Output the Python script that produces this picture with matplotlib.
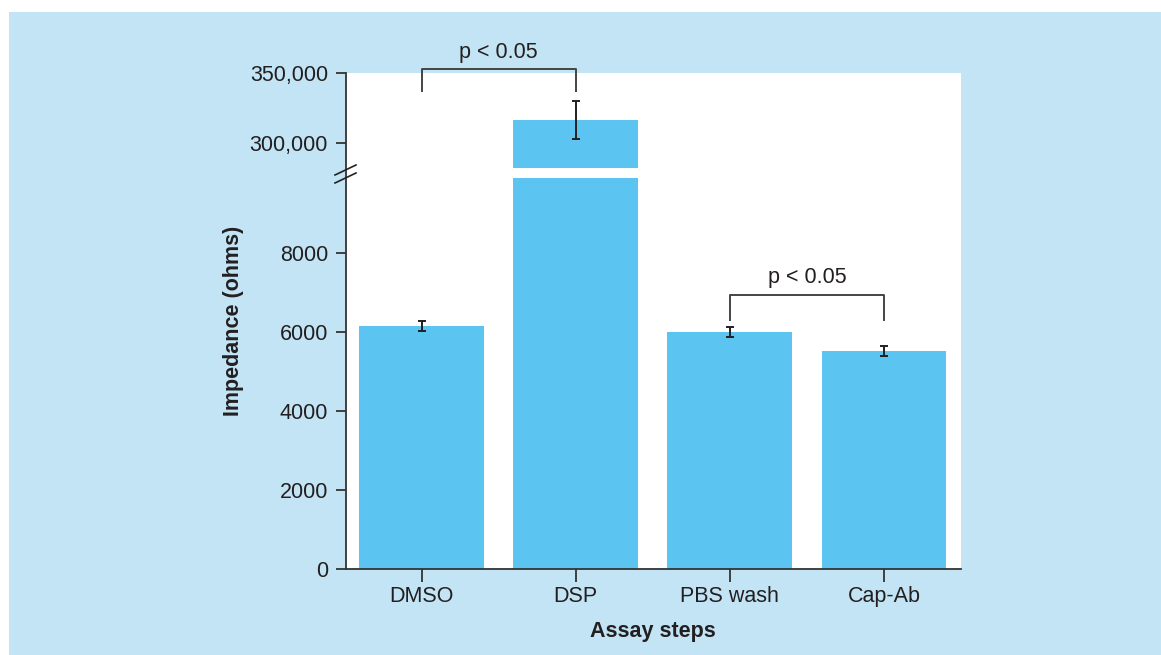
import matplotlib.pyplot as plt
from matplotlib.patches import Rectangle
from matplotlib.lines import Line2D
from matplotlib.ticker import FuncFormatter

plt.rcParams['font.family'] = ['Liberation Sans', 'DejaVu Sans']

steps = ['DMSO', 'DSP', 'PBS wash', 'Cap-Ab']
impedance = [6150, 316500, 6000, 5520]
err = [130, 13500, 125, 135]

panel_col = '#c2e4f5'
bar_col = '#5bc4f1'
ink = '#231f20'

W, H = 1161, 655
fig = plt.figure(figsize=(W / 100, H / 100), dpi=100)
fig.patch.set_facecolor('white')


def fx(px):
    return px / W


def fy(py):
    return 1 - py / H


# light blue panel and the white plotting area behind both axes
fig.patches.append(Rectangle((fx(9), 0), 1 - fx(9), fy(12), transform=fig.transFigure,
                             facecolor=panel_col, edgecolor='none', zorder=-2))
fig.patches.append(Rectangle((fx(346), fy(569)), fx(615), 496 / H, transform=fig.transFigure,
                             facecolor='white', edgecolor='none', zorder=-1))

ax_top = fig.add_axes([fx(346), fy(168), fx(615), 95 / H])
ax_bot = fig.add_axes([fx(346), fy(569), fx(615), 391 / H])

x = list(range(len(steps)))
for ax in (ax_top, ax_bot):
    ax.set_facecolor('none')
    ax.bar(x, impedance, width=0.81, color=bar_col, zorder=2)
    ax.errorbar(x, impedance, yerr=err, fmt='none', ecolor=ink, elinewidth=1.4,
                capsize=3, capthick=1.4, zorder=3)
    ax.set_xlim(-0.49, 3.5)
    for s in ('top', 'right', 'left', 'bottom'):
        ax.spines[s].set_visible(False)
    ax.tick_params(axis='both', colors='#333333', labelcolor=ink, labelsize=15.5,
                   length=7, width=1.3, direction='out', pad=6)

ax_top.set_ylim(282000, 350000)
ax_top.set_yticks([300000, 350000])
ax_top.yaxis.set_major_formatter(FuncFormatter(lambda v, p: f'{int(v):,}'))
ax_top.set_xticks([])

ax_bot.set_ylim(0, 9900)
ax_bot.set_yticks([0, 2000, 4000, 6000, 8000])
ax_bot.set_xticks(x)
ax_bot.set_xticklabels(steps)
ax_bot.tick_params(axis='x', length=9, pad=3)
ax_bot.spines['bottom'].set_visible(True)
ax_bot.spines['bottom'].set_color('#333333')
ax_bot.spines['bottom'].set_linewidth(1.3)

# continuous left axis line with break marks
fig.lines.append(Line2D([fx(346), fx(346)], [fy(73), fy(569)], transform=fig.transFigure,
                        color='#333333', lw=1.3))
for y0 in (175, 183):
    fig.lines.append(Line2D([fx(335), fx(356)], [fy(y0), fy(y0 - 10)],
                            transform=fig.transFigure, color='#222222', lw=1.2))

fig.text(fx(233), fy(321), 'Impedance (ohms)', rotation=90, ha='center', va='center',
         fontsize=15.5, fontweight='bold', color=ink)
fig.text(fx(653), fy(632), 'Assay steps', ha='center', va='center',
         fontsize=15.5, fontweight='bold', color=ink)

# significance brackets
ax_top.plot([0, 0, 1, 1], [337000, 352800, 352800, 337000], color='#444444', lw=1.4,
            clip_on=False)
ax_top.text(0.5, 365000, 'p < 0.05', ha='center', va='center', fontsize=15.5, color=ink)

ax_bot.plot([2, 2, 3, 3], [6300, 6940, 6940, 6300], color='#444444', lw=1.4, clip_on=False)
ax_bot.text(2.5, 7370, 'p < 0.05', ha='center', va='center', fontsize=15.5, color=ink)

fig.savefig('out.png', dpi=100)
